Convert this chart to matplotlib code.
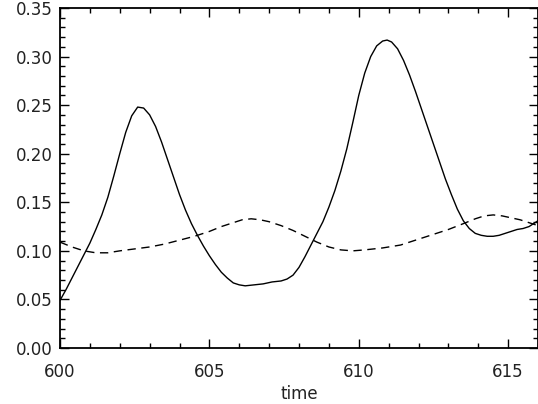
import numpy as np
import matplotlib
matplotlib.use("Agg")
import matplotlib.pyplot as plt
from matplotlib.ticker import MultipleLocator

# values
t_solid = [600.0, 600.2, 600.4, 600.6, 600.8, 601.0, 601.2, 601.4, 601.6, 601.8,
           602.0, 602.2, 602.4, 602.6, 602.8, 603.0, 603.2, 603.4, 603.6, 603.8,
           604.0, 604.2, 604.4, 604.6, 604.8, 605.0, 605.2, 605.4, 605.6, 605.8,
           606.0, 606.2, 606.5, 606.8, 607.1, 607.4, 607.6, 607.8, 608.0, 608.2,
           608.4, 608.6, 608.8, 609.0, 609.2, 609.4, 609.6, 609.8, 610.0, 610.2,
           610.4, 610.6, 610.8, 610.95, 611.1, 611.3, 611.5, 611.7, 611.9, 612.1,
           612.3, 612.5, 612.7, 612.9, 613.1, 613.3, 613.5, 613.7, 613.9, 614.1,
           614.3, 614.5, 614.7, 614.9, 615.1, 615.3, 615.5, 615.7, 616.0]
y_solid = [0.049, 0.060, 0.072, 0.084, 0.096, 0.108, 0.122, 0.137, 0.155, 0.177,
           0.200, 0.222, 0.239, 0.248, 0.247, 0.240, 0.228, 0.212, 0.194, 0.176,
           0.158, 0.142, 0.128, 0.116, 0.105, 0.095, 0.086, 0.078, 0.072, 0.067,
           0.065, 0.064, 0.065, 0.066, 0.068, 0.069, 0.071, 0.075, 0.083, 0.094,
           0.106, 0.118, 0.130, 0.145, 0.162, 0.182, 0.205, 0.232, 0.260, 0.283,
           0.300, 0.311, 0.316, 0.317, 0.315, 0.308, 0.296, 0.281, 0.264, 0.246,
           0.228, 0.210, 0.192, 0.174, 0.158, 0.143, 0.131, 0.123, 0.118, 0.116,
           0.115, 0.115, 0.116, 0.118, 0.120, 0.122, 0.123, 0.125, 0.131]

t_dash = [600.0, 600.4, 600.8, 601.2, 601.6, 602.0, 602.5, 603.0, 603.5, 604.0,
          604.5, 605.0, 605.4, 605.8, 606.1, 606.4, 606.7, 607.0, 607.4, 607.8,
          608.2, 608.6, 609.0, 609.4, 609.8, 610.2, 610.8, 611.4, 612.0, 612.5,
          613.0, 613.5, 613.9, 614.2, 614.5, 614.8, 615.1, 615.4, 615.7, 616.0]
y_dash = [0.109, 0.104, 0.100, 0.098, 0.098, 0.100, 0.102, 0.104, 0.107, 0.111,
          0.115, 0.120, 0.125, 0.129, 0.132, 0.133, 0.132, 0.130, 0.126, 0.121,
          0.115, 0.109, 0.104, 0.101, 0.100, 0.101, 0.103, 0.106, 0.112, 0.117,
          0.122, 0.128, 0.133, 0.136, 0.137, 0.136, 0.134, 0.132, 0.129, 0.126]

plt.rcParams["font.family"] = "DejaVu Sans"
fig = plt.figure(figsize=(5.38, 4.04), dpi=100)
ax = fig.add_axes([60 / 538, 56 / 404, 478 / 538, 340 / 404])

ax.plot(t_solid, y_solid, color="black", lw=1.0)
ax.plot(t_dash, y_dash, color="black", lw=1.0, dashes=(6, 4))

ax.set_xlim(600, 616)
ax.set_ylim(0, 0.35)
ax.xaxis.set_major_locator(MultipleLocator(5))
ax.xaxis.set_minor_locator(MultipleLocator(1))
ax.yaxis.set_major_locator(MultipleLocator(0.05))
ax.yaxis.set_minor_locator(MultipleLocator(0.01))
ax.yaxis.set_major_formatter(plt.FormatStrFormatter("%.2f"))

ax.tick_params(which="both", direction="in", top=True, right=True,
               labelsize=12, labelcolor="#222222", width=1.0)
ax.tick_params(which="major", length=6.5)
ax.tick_params(which="minor", length=3.5)
ax.tick_params(axis="x", which="major", pad=11)
ax.tick_params(axis="y", which="major", pad=5)
for s in ax.spines.values():
    s.set_linewidth(1.3)

ax.set_xlabel("time", fontsize=12, color="#222222", labelpad=3)

fig.savefig("out.png", dpi=100)
